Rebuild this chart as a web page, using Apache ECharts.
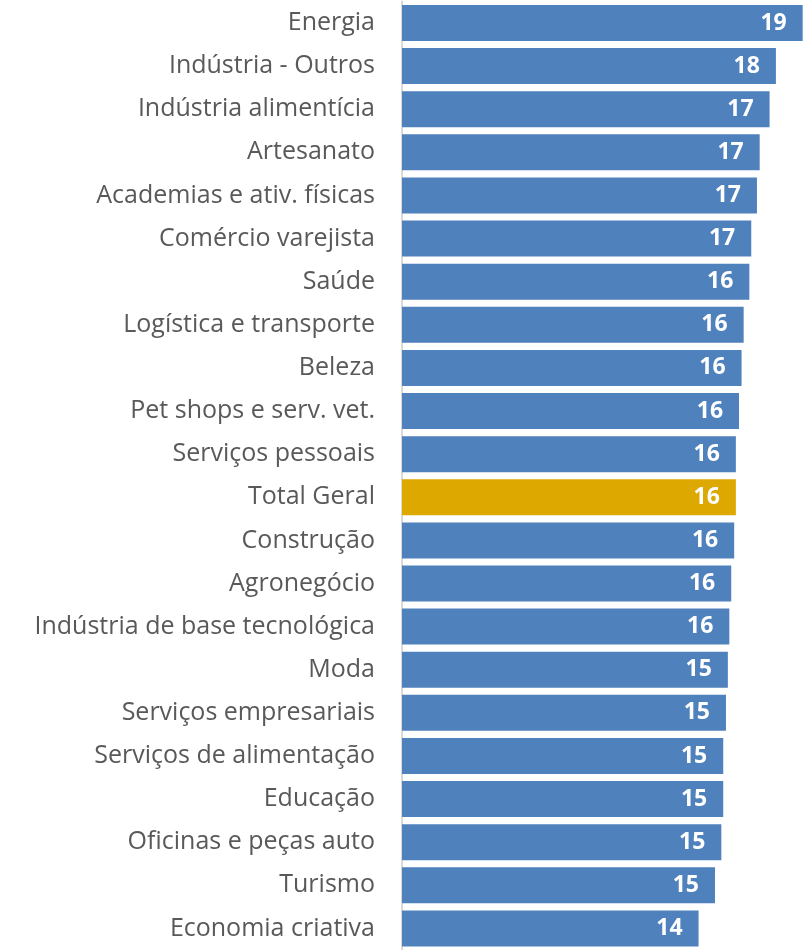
<!DOCTYPE html>
<html>
<head>
<meta charset="utf-8">
<script src="https://cdn.jsdelivr.net/npm/echarts@6/dist/echarts.min.js"></script>
<style>
  html, body { margin: 0; padding: 0; background: #fff; }
  #chart { width: 808px; height: 950px; }
</style>
</head>
<body>
<div id="chart"></div>
<script>
// categorias, de cima para baixo
const categories = [
  'Energia', 'Indústria - Outros', 'Indústria alimentícia', 'Artesanato',
  'Academias e ativ. físicas', 'Comércio varejista', 'Saúde', 'Logística e transporte',
  'Beleza', 'Pet shops e serv. vet.', 'Serviços pessoais', 'Total Geral',
  'Construção', 'Agronegócio', 'Indústria de base tecnológica', 'Moda',
  'Serviços empresariais', 'Serviços de alimentação', 'Educação',
  'Oficinas e peças auto', 'Turismo', 'Economia criativa'
]

// valores
const values = [
  19.01, 17.74, 17.44, 16.97,
  16.84, 16.57, 16.48, 16.21,
  16.11, 15.99, 15.84, 15.84,
  15.76, 15.62, 15.53, 15.46,
  15.37, 15.24, 15.24,
  15.15, 14.85, 14.07
]

const highlight = 'Total Geral'

const chart = echarts.init(document.getElementById('chart'))

chart.setOption({
  animation: false,
  grid: {
    left: 402,
    top: 1.4,
    width: 403,
    height: 955.7
  },
  xAxis: {
    type: 'value',
    min: 0,
    max: 19.12,
    show: false
  },
  yAxis: {
    type: 'category',
    inverse: true,
    data: categories,
    axisLine: { show: true, lineStyle: { color: '#d9d9d9', width: 2 } },
    axisTick: { show: false },
    axisLabel: {
      margin: 27,
      fontFamily: 'Open Sans',
      fontSize: 25,
      color: '#595959',
      padding: [2, 0, 0, 0]
    }
  },
  series: [{
    type: 'bar',
    barCategoryGap: '16.5%',
    data: values.map((v, i) => ({
      value: v,
      itemStyle: { color: categories[i] === highlight ? '#dda800' : '#4f81bd' }
    })),
    label: {
      show: true,
      position: 'insideRight',
      distance: 16,
      fontFamily: 'Open Sans',
      fontSize: 23,
      fontWeight: 'bold',
      color: '#fff',
      padding: [3, 0, 0, 0],
      formatter: (p) => Math.round(p.value)
    }
  }]
})
</script>
</body>
</html>
